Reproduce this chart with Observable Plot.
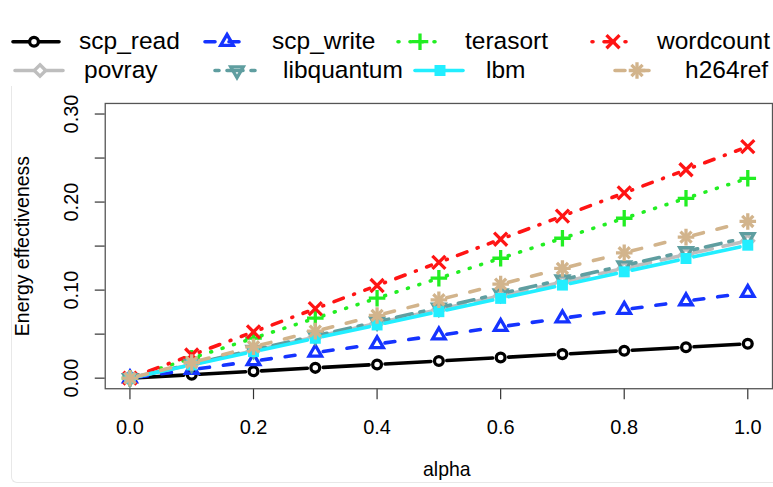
<!DOCTYPE html>
<html><head><meta charset="utf-8">
<script src="https://cdn.jsdelivr.net/npm/d3@7"></script>
<script src="https://cdn.jsdelivr.net/npm/@observablehq/plot@0.6"></script>
<style>
html,body{margin:0;padding:0;background:#fff;overflow:hidden;width:773px;height:487px;}
#wrap{position:relative;width:773px;height:487px;overflow:hidden;font-family:"Liberation Sans",Arial,Helvetica,sans-serif;}
#card{position:absolute;left:11px;top:86px;width:800px;height:396px;border-left:1px solid #e8e8e8;border-bottom:1px solid #e8e8e8;border-bottom-left-radius:6px;}
#legend{position:absolute;left:0;top:0;}
#chart{position:absolute;left:0;top:88px;}
</style></head><body>
<div id="wrap"><div id="card"></div><svg id="legend" width="773" height="88"></svg><div id="chart"></div></div>
<script>
// ---- data ----
const alpha = [0, 0.1, 0.2, 0.3, 0.4, 0.5, 0.6, 0.7, 0.8, 0.9, 1.0];
const scp_read   = [0, 0.0039, 0.0078, 0.0117, 0.0156, 0.0195, 0.0234, 0.0273, 0.0312, 0.0351, 0.039];
const scp_write  = [0, 0.0097, 0.0194, 0.0291, 0.0388, 0.0487, 0.0584, 0.0681, 0.0778, 0.0875, 0.097];
const terasort   = [0, 0.0227, 0.0454, 0.0681, 0.0908, 0.1135, 0.1362, 0.1589, 0.1816, 0.2043, 0.227];
const wordcount  = [0, 0.0263, 0.0526, 0.0789, 0.1052, 0.1315, 0.1578, 0.1841, 0.2104, 0.2367, 0.263];
const povray     = [0, 0.0156, 0.0312, 0.0468, 0.0624, 0.078, 0.0936, 0.1092, 0.1248, 0.1404, 0.156];
const libquantum = [0, 0.016, 0.032, 0.048, 0.064, 0.080, 0.096, 0.112, 0.128, 0.144, 0.160];
const lbm        = [0, 0.0151, 0.0302, 0.0453, 0.0604, 0.0755, 0.0906, 0.1057, 0.1208, 0.1359, 0.151];
const h264ref    = [0, 0.0178, 0.0356, 0.0534, 0.0712, 0.089, 0.1068, 0.1246, 0.1424, 0.1602, 0.178];
const seriesNames  = ["scp_read", "scp_write", "terasort", "wordcount", "povray", "libquantum", "lbm", "h264ref"];
const seriesValues = [scp_read, scp_write, terasort, wordcount, povray, libquantum, lbm, h264ref];
const xTickValues = [0, 0.2, 0.4, 0.6, 0.8, 1.0];
const xTickLabels = ["0.0", "0.2", "0.4", "0.6", "0.8", "1.0"];
const yTickValues = [0, 0.05, 0.10, 0.15, 0.20, 0.25, 0.30];
const yLabelValues = [0, 0.10, 0.20, 0.30];
const yTickLabels = ["0.00", "0.10", "0.20", "0.30"];
const xTitle = "alpha";
const yTitle = "Energy effectiveness";

// ---- styles ----
const styles = {
  scp_read:   {color: "#000000", dash: null,         sym: "circle",    fill: false, r: 4.4, rot: 0},
  scp_write:  {color: "#1533ff", dash: "10,14",      sym: "triangle2", fill: false, r: 6.0, rot: 0},
  terasort:   {color: "#22ee22", dash: "1,11",       sym: "plus",      fill: false, r: 5.4, rot: 0},
  wordcount:  {color: "#ff1414", dash: "1,11,10,11", sym: "times",     fill: false, r: 6.0, rot: 0},
  povray:     {color: "#bebebe", dash: "19,11",      sym: "diamond2",  fill: false, r: 5.2, rot: 0},
  libquantum: {color: "#5f9ea0", dash: "4,8,16,8",   sym: "triangle2", fill: false, r: 6.0, rot: 180},
  lbm:        {color: "#22eeff", dash: null,         sym: "square",    fill: true,  r: 6.2, rot: 0},
  h264ref:    {color: "#d2b48c", dash: "10,14",      sym: "asterisk8", fill: false, r: 5.4, rot: 0}
};
const FONT = '"Liberation Sans", Arial, Helvetica, sans-serif';
const LW = 3.6;
const SW = 3.3;

// ---- table ----
const rows = seriesNames.flatMap((s, i) => alpha.map((a, j) => ({series: s, alpha: a, value: seriesValues[i][j]})));
const segs = seriesNames.flatMap((s, i) => alpha.slice(1).map((a, j) => ({
  series: s, x1: alpha[j], y1: seriesValues[i][j], x2: a, y2: seriesValues[i][j + 1]})));

function dotMarks(data, st) {
  const common = {x: "alpha", y: "value", r: st.r};
  if (st.sym === "asterisk8") {
    return [
      Plot.dot(data, {...common, symbol: "plus", stroke: st.color, fill: "none", strokeWidth: SW}),
      Plot.dot(data, {...common, r: st.r * 0.95, symbol: "times", stroke: st.color, fill: "none", strokeWidth: SW})
    ];
  }
  if (st.fill) return [Plot.dot(data, {...common, symbol: st.sym, fill: st.color, stroke: "none"})];
  return [Plot.dot(data, {...common, symbol: st.sym, rotate: st.rot, stroke: st.color, fill: "none", strokeWidth: SW})];
}

const marks = [];
for (const s of seriesNames) {
  const st = styles[s];
  marks.push(Plot.arrow(segs.filter(d => d.series === s), {
    x1: "x1", y1: "y1", x2: "x2", y2: "y2", stroke: st.color, strokeWidth: LW,
    strokeDasharray: st.dash, headLength: 0, inset: 8, strokeLinecap: "round"
  }));
  marks.push(...dotMarks(rows.filter(d => d.series === s), st));
}

const chart = Plot.plot({
  width: 775, height: 399,
  marginLeft: 105, marginRight: 1, marginTop: 15, marginBottom: 98,
  style: {fontFamily: FONT, background: "transparent", overflow: "visible"},
  x: {domain: [-0.04, 1.04]},
  y: {domain: [-0.012, 0.312]},
  marks: [
    Plot.axisY({ticks: yTickValues, tickSize: 10, tickFormat: () => "", label: null, stroke: "#333", strokeWidth: 1.2}),
    Plot.axisX({ticks: xTickValues, tickSize: 11, tickFormat: () => "", label: null, stroke: "#333", strokeWidth: 1.2}),
    Plot.text(yLabelValues, {y: d => d, text: (d, i) => yTickLabels[i], frameAnchor: "left", textAnchor: "middle", lineAnchor: "middle", dx: -34, rotate: -90, fontSize: 20, fill: "#000"}),
    Plot.text(xTickValues, {x: d => d, text: (d, i) => xTickLabels[i], frameAnchor: "bottom", textAnchor: "middle", lineAnchor: "middle", dy: 39, fontSize: 20, fill: "#000"}),
    Plot.text([yTitle], {text: d => d, frameAnchor: "left", textAnchor: "middle", lineAnchor: "middle", dx: -83, rotate: -90, fontSize: 19.5, fill: "#000"}),
    Plot.text([xTitle], {text: d => d, frameAnchor: "bottom", textAnchor: "middle", lineAnchor: "middle", dx: 8, dy: 81, fontSize: 19.5, fill: "#000"}),
    ...marks,
    Plot.frame({stroke: "#555", strokeWidth: 1.3})
  ]
});
document.getElementById("chart").appendChild(chart);

// ---- legend ----
const legendLayout = [
  {x0: 13, x1: 59, px: 34, tx: 79, row: 0},
  {x0: 205, x1: 247, px: 227, tx: 272, row: 0},
  {x0: 398, x1: 443, px: 420, tx: 465, row: 0},
  {x0: 592, x1: 632, px: 613, tx: 657, row: 0},
  {x0: 15, x1: 63, px: 40, tx: 84, row: 1},
  {x0: 215, x1: 263, px: 237, tx: 283, row: 1},
  {x0: 415, x1: 463, px: 440, tx: 486, row: 1},
  {x0: 615, x1: 658, px: 637, tx: 685, row: 1}
];
const rowY = [41.7, 70.5];
const symMap = {circle: d3.symbolCircle, triangle2: d3.symbolTriangle2, plus: d3.symbolPlus,
  times: d3.symbolTimes, diamond2: d3.symbolDiamond2, square: d3.symbolSquare};
const lg = d3.select("#legend");
seriesNames.forEach((s, i) => {
  const st = styles[s], L = legendLayout[i], y = rowY[L.row];
  const g = lg.append("g");
  g.append("line").attr("x1", L.x0).attr("x2", L.x1).attr("y1", y).attr("y2", y)
    .attr("stroke", st.color).attr("stroke-width", LW).attr("stroke-linecap", "round")
    .attr("stroke-dasharray", st.dash);
  const addSym = (name, r) => {
    const p = g.append("path").attr("d", d3.symbol(symMap[name], Math.PI * r * r)())
      .attr("transform", `translate(${L.px},${y}) rotate(${st.rot})`);
    if (st.fill) p.attr("fill", st.color).attr("stroke", "none");
    else p.attr("fill", st.sym === "circle" ? "#fff" : "none").attr("stroke", st.color).attr("stroke-width", SW);
  };
  if (st.sym === "asterisk8") { addSym("plus", st.r); addSym("times", st.r * 0.95); }
  else addSym(st.sym, st.r);
  g.append("text").attr("x", L.tx).attr("y", y + 7.5).attr("font-size", 24.5)
    .attr("font-family", FONT).attr("fill", "#000").text(s);
});
</script>
</body></html>
